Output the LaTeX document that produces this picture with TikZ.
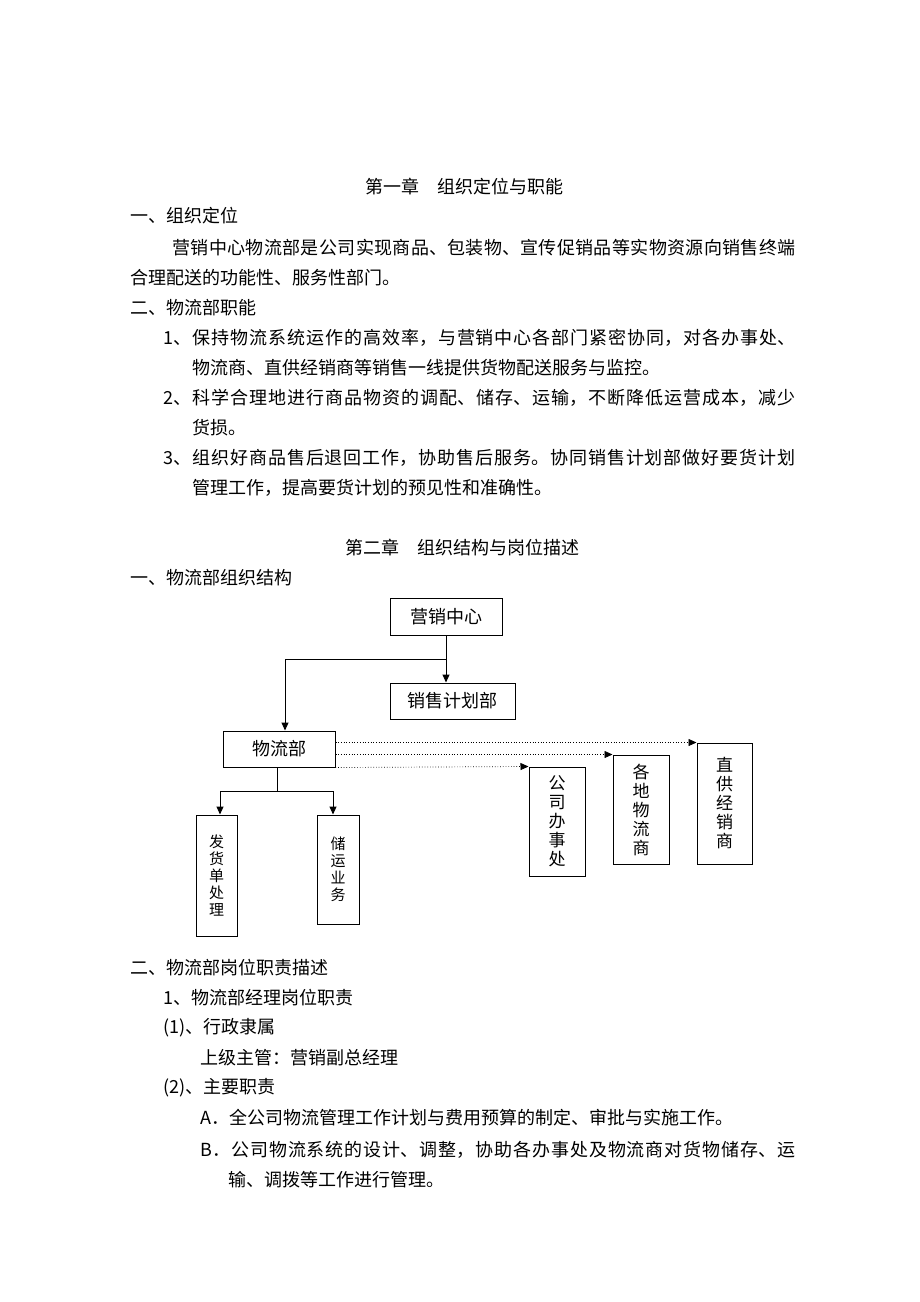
\documentclass[tikz,border=0pt]{standalone}
\usepackage{fontspec}
\setmainfont{Noto Sans CJK SC}
\usepackage{tikz}
\usetikzlibrary{positioning,arrows.meta}
\XeTeXlinebreaklocale "zh"
\XeTeXlinebreakskip=0pt plus 2pt
\def\bodyfont{\fontsize{18}{30}\selectfont}
\def\leftfont{\fontsize{15}{17}\selectfont}
\def\rightfont{\fontsize{17}{19}\selectfont}
\newcommand{\jline}[2]{\parbox{#1}{\parindent=0pt\parfillskip=0pt\emergencystretch=40pt #2\par}}

\begin{document}
\begin{tikzpicture}[>={Triangle[length=8pt,width=7pt]}, txt/.style={anchor=west, inner sep=0pt, font=\bodyfont}, ttl/.style={inner sep=0pt, font=\bodyfont}, box/.style={draw, line width=1pt, inner sep=0pt, font=\bodyfont}, vbox/.style={box, align=center}, dots/.style={dotted, line width=0.7pt}, line width=1pt]
\useasboundingbox (0pt, 0pt) rectangle (920pt, -1302pt);
\draw (464.0pt, -187.0pt)node[ttl](ch1){第一章　组织定位与职能};
\draw (130.0pt, -216.0pt)node[txt](s11){一、组织定位};
\draw (172.0pt, -248.0pt)node[txt](p1a){\jline{623pt}{营销中心物流部是公司实现商品、包装物、宣传促销品等实物资源向销售终端}};
\draw (130.0pt, -278.0pt)node[txt](p1b){合理配送的功能性、服务性部门。};
\draw (130.0pt, -308.0pt)node[txt](s12){二、物流部职能};
\draw (163.0pt, -338.0pt)node[txt](i1a){\jline{632pt}{1、保持物流系统运作的高效率，与营销中心各部门紧密协同，对各办事处、}};
\draw (192.0pt, -368.0pt)node[txt](i1b){物流商、直供经销商等销售一线提供货物配送服务与监控。};
\draw (163.0pt, -398.0pt)node[txt](i2a){\jline{632pt}{2、科学合理地进行商品物资的调配、储存、运输，不断降低运营成本，减少}};
\draw (192.0pt, -428.0pt)node[txt](i2b){货损。};
\draw (163.0pt, -458.0pt)node[txt](i3a){\jline{632pt}{3、组织好商品售后退回工作，协助售后服务。协同销售计划部做好要货计划}};
\draw (192.0pt, -488.0pt)node[txt](i3b){管理工作，提高要货计划的预见性和准确性。};
\draw (462.0pt, -548.0pt)node[ttl](ch2){第二章　组织结构与岗位描述};
\draw (130.0pt, -578.0pt)node[txt](s21){一、物流部组织结构};
\draw (446.0pt, -616.5pt)node[box, minimum width=112pt, minimum height=37pt](yxzx){营销中心};
\draw (452.5pt, -701.0pt)node[box, minimum width=125pt, minimum height=36pt](xsjh){销售计划部};
\draw (279.0pt, -749.0pt)node[box, minimum width=112pt, minimum height=36pt](wlb){物流部};
\draw (216.5pt, -875.5pt)node[vbox, font=\leftfont, minimum width=41pt, minimum height=121pt](fhd){发\\货\\单\\处\\理};
\draw (338.0pt, -869.5pt)node[vbox, font=\leftfont, minimum width=42pt, minimum height=109pt](ccyw){储\\运\\业\\务};
\draw (557.0pt, -821.5pt)node[vbox, font=\rightfont, minimum width=56pt, minimum height=109pt](gsbs){公\\司\\办\\事\\处};
\draw (641.0pt, -809.5pt)node[vbox, font=\rightfont, minimum width=56pt, minimum height=109pt](gdwl){各\\地\\物\\流\\商};
\draw (724.5pt, -803.5pt)node[vbox, font=\rightfont, minimum width=55pt, minimum height=121pt](zgjx){直\\供\\经\\销\\商};
\path (yxzx.south) ++(0pt, -24pt) coordinate (j1);
\path (wlb.south) ++(-2pt, -24pt) coordinate (j2);
\path[->] (yxzx.south) edge (yxzx.south |- xsjh.north);
\draw[->] (j1) -| ([xshift=6pt]wlb.north);
\draw (wlb.south -| j2) -- (j2);
\draw[->] (j2) -| ([xshift=3.5pt]fhd.north);
\draw[->] (j2) -| ([xshift=-5pt]ccyw.north);
\draw[dots, ->] ([yshift=-12pt]wlb.north east) -- (zgjx.north west);
\draw[dots, ->] ([yshift=-24pt]wlb.north east) -- (gdwl.north west);
\draw[dots, ->] (wlb.south east) -- (gsbs.north west);
\draw (130.0pt, -968.0pt)node[txt](s22){二、物流部岗位职责描述};
\draw (163.0pt, -998.0pt)node[txt](j1a){1、物流部经理岗位职责};
\draw (163.0pt, -1028.0pt)node[txt](j1b){(1)、行政隶属};
\draw (200.0pt, -1058.0pt)node[txt](j1c){上级主管：营销副总经理};
\draw (163.0pt, -1088.0pt)node[txt](j1d){(2)、主要职责};
\draw (200.0pt, -1118.0pt)node[txt](jA){A．全公司物流管理工作计划与费用预算的制定、审批与实施工作。};
\draw (200.0pt, -1150.0pt)node[txt](jBa){\jline{595pt}{B．公司物流系统的设计、调整，协助各办事处及物流商对货物储存、运}};
\draw (228.0pt, -1180.0pt)node[txt](jBb){输、调拨等工作进行管理。};
\end{tikzpicture}
\end{document}
